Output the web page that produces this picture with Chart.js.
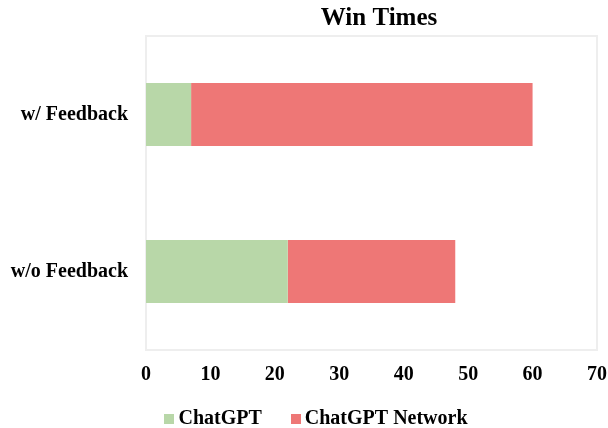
<!DOCTYPE html>
<html><head><meta charset="utf-8">
<script src="https://cdn.jsdelivr.net/npm/chart.js@4"></script>
<style>html,body{margin:0;padding:0;background:#fff}#wrap{width:608px;height:428px}</style>
</head><body><div id="wrap"><canvas id="c" width="608" height="428"></canvas></div>
<script>
const categories = ["w/ Feedback", "w/o Feedback"];
const chatgptWins = [7, 22];
const networkWins = [53, 26];
const seriesNames = ["ChatGPT", "ChatGPT Network"];
const seriesColors = ["#b8d7a8", "#ee7776"];
const chartTitle = "Win Times";

const FONT = "'Liberation Serif', 'Times New Roman', serif";

const framePlugin = {
  id: 'frame',
  afterLayout(chart) {
    const lg = chart.legend;
    if (lg) { lg.left += 12; lg.right += 12; lg.top -= 4; lg.bottom -= 4; }
  },
  beforeDatasetsDraw(chart) {
    const {ctx, chartArea: a} = chart;
    ctx.save();
    ctx.strokeStyle = '#eeeeee';
    ctx.lineWidth = 2;
    ctx.strokeRect(a.left, a.top, a.right - a.left, a.bottom - a.top);
    ctx.restore();
  },
  afterDraw(chart) {
    const {ctx} = chart;
    ctx.save();
    ctx.font = "bold 25px " + FONT;
    ctx.fillStyle = '#000';
    ctx.textAlign = 'center';
    ctx.textBaseline = 'middle';
    ctx.fillText(chartTitle, 379, 19);
    // legend swatches at the positions laid out by the legend
    const lg = chart.legend;
    if (lg && lg.legendHitBoxes) {
      lg.legendHitBoxes.forEach((hb, i) => {
        ctx.fillStyle = chart.data.datasets[i].backgroundColor;
        ctx.fillRect(Math.round(hb.left), Math.round(hb.top + hb.height / 2 - 5), 10, 10);
      });
    }
    ctx.restore();
  }
};

new Chart(document.getElementById('c'), {
  type: 'bar',
  data: {
    labels: categories,
    datasets: [
      {label: seriesNames[0], data: chatgptWins, backgroundColor: seriesColors[0], borderWidth: 0},
      {label: seriesNames[1], data: networkWins, backgroundColor: seriesColors[1], borderWidth: 0}
    ]
  },
  options: {
    indexAxis: 'y',
    responsive: false,
    animation: false,
    layout: {padding: {top: 36, right: 0, left: 0, bottom: 0}},
    categoryPercentage: 0.8,
    barPercentage: 0.5,
    scales: {
      x: {
        stacked: true, min: 0, max: 70,
        ticks: {stepSize: 10, color: '#000', font: {family: FONT, size: 20, weight: 'bold'}, padding: 13},
        grid: {display: false, drawTicks: false},
        border: {display: false},
        afterFit(s) { s.height = 34; s.paddingRight = 11; }
      },
      y: {
        stacked: true,
        ticks: {color: '#000', font: {family: FONT, size: 20, weight: 'bold'}, padding: 18},
        grid: {display: false, drawTicks: false},
        border: {display: false},
        afterFit(s) { s.width = 146; }
      }
    },
    plugins: {
      legend: {
        position: 'bottom',
        maxHeight: 44,
        labels: {
          color: '#000', font: {family: FONT, size: 20, weight: 'bold'},
          boxWidth: 4, boxHeight: 10, padding: 29,
          generateLabels(chart) {
            return chart.data.datasets.map((d, i) => ({
              text: d.label, fillStyle: 'rgba(0,0,0,0)', strokeStyle: 'rgba(0,0,0,0)',
              lineWidth: 0, datasetIndex: i, hidden: false, fontColor: '#000'
            }));
          }
        }
      },
      tooltip: {enabled: false},
      title: {display: false}
    }
  },
  plugins: [framePlugin]
});
</script>
</body></html>
